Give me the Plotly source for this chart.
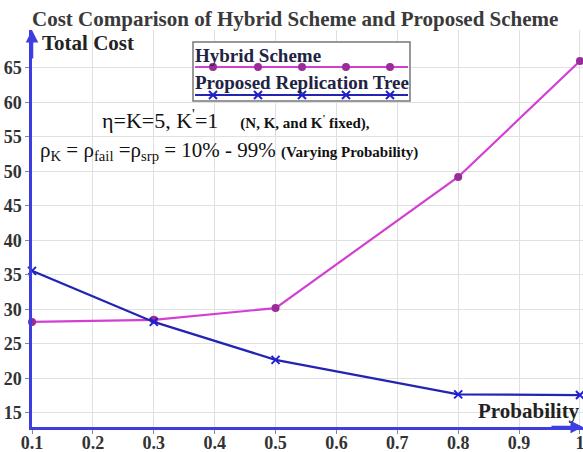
import plotly.graph_objects as go

probability = [0.1, 0.3, 0.5, 0.8, 1.0]
hybrid_cost = [28.2, 28.5, 30.2, 49.2, 66.0]
proposed_cost = [35.6, 28.2, 22.7, 17.7, 17.6]
x_ticks = [0.1, 0.2, 0.3, 0.4, 0.5, 0.6, 0.7, 0.8, 0.9, 1.0]
x_tick_labels = ["0.1", "0.2", "0.3", "0.4", "0.5", "0.6", "0.7", "0.8", "0.9", "1"]
y_ticks = [15, 20, 25, 30, 35, 40, 45, 50, 55, 60, 65]
y_tick_labels = [str(v) for v in y_ticks]
legend_names = ["Hybrid Scheme", "Proposed Replication Tree"]

HYB_LINE = "#d23fd2"
HYB_MARK = "#9a2c9a"
PRO_LINE = "#2323b4"
PRO_MARK = "#2020d0"
AXIS_BLUE = "#3d3de0"
SERIF = "Liberation Serif, Times New Roman, serif"

W, H = 583, 452
L, R, T, B = 32, 0, 30, 25

fig = go.Figure()

fig.add_trace(go.Scatter(
    x=probability, y=hybrid_cost, mode="lines+markers", name=legend_names[0],
    line=dict(color=HYB_LINE, width=2.2),
    marker=dict(symbol="circle", size=8, color=HYB_MARK),
    showlegend=False, cliponaxis=False))
fig.add_trace(go.Scatter(
    x=probability, y=proposed_cost, mode="lines+markers", name=legend_names[1],
    line=dict(color=PRO_LINE, width=2.2),
    marker=dict(symbol="x-thin", size=8, line=dict(color=PRO_MARK, width=2)),
    showlegend=False, cliponaxis=False))

# --- custom legend on an overlay subplot in pixel-like coordinates ---
box = dict(x0=193, x1=410, y0=42, y1=101)
fig.add_shape(type="rect", xref="x2", yref="y2", layer="between",
              x0=box["x0"], x1=box["x1"], y0=box["y0"], y1=box["y1"],
              fillcolor="white", line=dict(color="#777777", width=1.5))
leg_x = [box["x0"] + 2, 213, 258, 302, 346, 390, box["x1"] - 2]
fig.add_trace(go.Scatter(
    x=leg_x, y=[67] * len(leg_x), xaxis="x2", yaxis="y2", mode="lines",
    line=dict(color=HYB_LINE, width=2.2), showlegend=False, hoverinfo="skip"))
fig.add_trace(go.Scatter(
    x=leg_x[1:-1], y=[67] * 5, xaxis="x2", yaxis="y2", mode="markers",
    marker=dict(symbol="circle", size=8, color=HYB_MARK), showlegend=False, hoverinfo="skip"))
fig.add_trace(go.Scatter(
    x=leg_x, y=[95] * len(leg_x), xaxis="x2", yaxis="y2", mode="lines",
    line=dict(color=PRO_LINE, width=2.2), showlegend=False, hoverinfo="skip"))
fig.add_trace(go.Scatter(
    x=leg_x[1:-1], y=[95] * 5, xaxis="x2", yaxis="y2", mode="markers",
    marker=dict(symbol="x-thin", size=8, line=dict(color=PRO_MARK, width=2)),
    showlegend=False, hoverinfo="skip"))

ann = []
ann.append(dict(xref="x2", yref="y2", x=193, y=55, xanchor="left", yanchor="middle",
                text="<b>" + legend_names[0] + "</b>", showarrow=False,
                font=dict(family=SERIF, size=19, color="#222244")))
ann.append(dict(xref="x2", yref="y2", x=193, y=82, xanchor="left", yanchor="middle",
                text="<b>" + legend_names[1] + "</b>", showarrow=False,
                font=dict(family=SERIF, size=19, color="#222244")))

# --- text annotations ---
ann.append(dict(xref="x2", yref="y2", x=40, y=43, xanchor="left", yanchor="middle",
                showarrow=False, text="<b>Total Cost</b>",
                font=dict(family=SERIF, size=21, color="#222222")))
ann.append(dict(xref="x2", yref="y2", x=476, y=411, xanchor="left", yanchor="middle",
                showarrow=False, text="<b>Probability</b>",
                font=dict(family=SERIF, size=21, color="#222222")))
ann.append(dict(xref="x2", yref="y2", x=100, y=119, xanchor="left", yanchor="middle",
                showarrow=False,
                text="η=K=5, K<sup>'</sup>=1    <span style='font-size:15px'><b>(N, K, and K<sup>'</sup> fixed),</b></span>",
                font=dict(family=SERIF, size=22, color="#111111")))
ann.append(dict(xref="x2", yref="y2", x=38, y=151, xanchor="left", yanchor="middle",
                showarrow=False,
                text="ρ<sub>K</sub> = ρ<sub>fail</sub> =ρ<sub>srp</sub> = 10% - 99% <span style='font-size:15px'><b>(Varying Probability)</b></span>",
                font=dict(family=SERIF, size=21, color="#111111")))

# axis arrows
ann.append(dict(xref="x2", yref="y2", x=32, y=30, ax=32, ay=60, axref="x2", ayref="y2",
                showarrow=True, arrowhead=2, arrowsize=1, arrowwidth=2.5, arrowcolor=AXIS_BLUE, text=""))
ann.append(dict(xref="x2", yref="y2", x=583, y=427, ax=550, ay=427, axref="x2", ayref="y2",
                showarrow=True, arrowhead=2, arrowsize=1, arrowwidth=2.5, arrowcolor=AXIS_BLUE, text=""))

axis_common = dict(showgrid=True, gridcolor="#e0e0e0", gridwidth=1,
                   showline=True, linecolor=AXIS_BLUE, linewidth=2.5,
                   ticks="outside", ticklen=4, tickcolor="#888888",
                   tickfont=dict(family=SERIF, size=18, color="#333333"),
                   ticklabeloverflow="allow",
                   zeroline=False, fixedrange=True, automargin=False)

fig.update_layout(
    template="none",
    width=W, height=H, margin=dict(l=L, r=R, t=T, b=B, pad=0),
    paper_bgcolor="white", plot_bgcolor="rgba(0,0,0,0)",
    title=dict(text="<b>Cost Comparison of Hybrid Scheme and Proposed Scheme</b>",
               xref="container", yref="container", x=32 / W, xanchor="left",
               y=1 - 19 / H, yanchor="middle",
               font=dict(family=SERIF, size=21, color="#3a3a3a")),
    annotations=ann,
    xaxis=dict(range=[0.1, 1.005], tickvals=x_ticks, ticklabelstandoff=-6,
               ticktext=["<b>" + t + "</b>" for t in x_tick_labels], **axis_common),
    yaxis=dict(range=[12.97, 70.5], tickvals=y_ticks,
               ticktext=["<b>" + t + "</b>" for t in y_tick_labels], **axis_common),
    xaxis2=dict(range=[L, W - R], domain=[0, 1], anchor="y2", visible=False,
                showgrid=False, zeroline=False, fixedrange=True, automargin=False),
    yaxis2=dict(range=[H - B, T], domain=[0, 1], anchor="x2", visible=False,
                showgrid=False, zeroline=False, fixedrange=True, automargin=False),
)

fig.write_html("out.html", config={"displayModeBar": False},
               post_script="document.body.style.margin='0px';document.body.style.padding='0px';")
